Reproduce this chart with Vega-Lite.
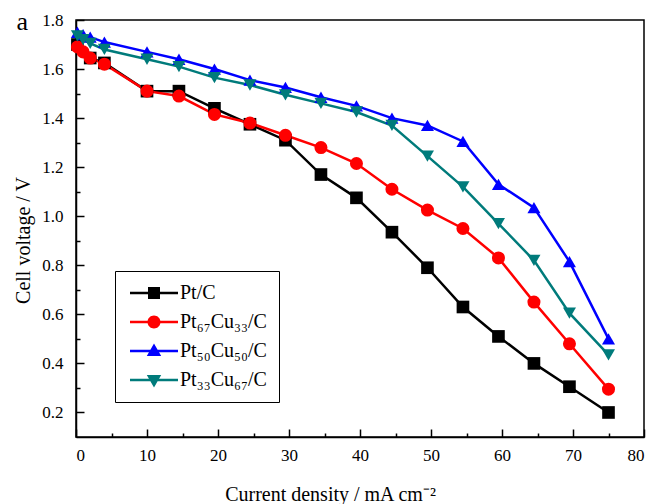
{
  "$schema": "https://vega.github.io/schema/vega-lite/v6.json",
  "width": 568,
  "height": 417,
  "autosize": {"type": "none"},
  "padding": {"left": 76, "top": 20, "right": 10, "bottom": 67},
  "background": "white",
  "title": {"text": "a", "orient": "left", "anchor": "end", "frame": "group", "angle": 0, "align": "left", "baseline": "alphabetic", "offset": -5, "dx": 10, "dy": 10, "font": "Liberation Serif", "fontSize": 26, "fontWeight": "normal", "color": "black"},
  "config": {
    "view": {"stroke": "black", "strokeWidth": 1.5},
    "axis": {"labelFont": "Liberation Serif", "titleFont": "Liberation Serif", "labelColor": "black", "titleColor": "black", "domainColor": "black", "tickColor": "black", "labelFontSize": 17, "titleFontSize": 20, "titleFontWeight": "normal", "grid": false, "domainWidth": 1.5, "tickWidth": 1.5}
  },
  "data": {"values": [
    {"series": "Pt/C", "j": 0.2, "v": 1.70},
    {"series": "Pt/C", "j": 2, "v": 1.645},
    {"series": "Pt/C", "j": 4, "v": 1.625},
    {"series": "Pt/C", "j": 10, "v": 1.51},
    {"series": "Pt/C", "j": 14.5, "v": 1.51},
    {"series": "Pt/C", "j": 19.5, "v": 1.44},
    {"series": "Pt/C", "j": 24.5, "v": 1.375},
    {"series": "Pt/C", "j": 29.5, "v": 1.31},
    {"series": "Pt/C", "j": 34.5, "v": 1.17},
    {"series": "Pt/C", "j": 39.5, "v": 1.075},
    {"series": "Pt/C", "j": 44.5, "v": 0.935},
    {"series": "Pt/C", "j": 49.5, "v": 0.79},
    {"series": "Pt/C", "j": 54.5, "v": 0.63},
    {"series": "Pt/C", "j": 59.5, "v": 0.51},
    {"series": "Pt/C", "j": 64.5, "v": 0.40},
    {"series": "Pt/C", "j": 69.5, "v": 0.305},
    {"series": "Pt/C", "j": 75, "v": 0.20},
    {"series": "Pt₆₇Cu₃₃/C", "j": 0.2, "v": 1.69},
    {"series": "Pt₆₇Cu₃₃/C", "j": 1, "v": 1.67},
    {"series": "Pt₆₇Cu₃₃/C", "j": 2, "v": 1.645},
    {"series": "Pt₆₇Cu₃₃/C", "j": 4, "v": 1.62},
    {"series": "Pt₆₇Cu₃₃/C", "j": 10, "v": 1.51},
    {"series": "Pt₆₇Cu₃₃/C", "j": 14.5, "v": 1.49},
    {"series": "Pt₆₇Cu₃₃/C", "j": 19.5, "v": 1.415},
    {"series": "Pt₆₇Cu₃₃/C", "j": 24.5, "v": 1.38},
    {"series": "Pt₆₇Cu₃₃/C", "j": 29.5, "v": 1.33},
    {"series": "Pt₆₇Cu₃₃/C", "j": 34.5, "v": 1.28},
    {"series": "Pt₆₇Cu₃₃/C", "j": 39.5, "v": 1.215},
    {"series": "Pt₆₇Cu₃₃/C", "j": 44.5, "v": 1.11},
    {"series": "Pt₆₇Cu₃₃/C", "j": 49.5, "v": 1.025},
    {"series": "Pt₆₇Cu₃₃/C", "j": 54.5, "v": 0.95},
    {"series": "Pt₆₇Cu₃₃/C", "j": 59.5, "v": 0.83},
    {"series": "Pt₆₇Cu₃₃/C", "j": 64.5, "v": 0.65},
    {"series": "Pt₆₇Cu₃₃/C", "j": 69.5, "v": 0.48},
    {"series": "Pt₆₇Cu₃₃/C", "j": 75, "v": 0.295},
    {"series": "Pt₅₀Cu₅₀/C", "j": 0.2, "v": 1.75},
    {"series": "Pt₅₀Cu₅₀/C", "j": 1, "v": 1.74},
    {"series": "Pt₅₀Cu₅₀/C", "j": 2, "v": 1.73},
    {"series": "Pt₅₀Cu₅₀/C", "j": 4, "v": 1.71},
    {"series": "Pt₅₀Cu₅₀/C", "j": 10, "v": 1.67},
    {"series": "Pt₅₀Cu₅₀/C", "j": 14.5, "v": 1.64},
    {"series": "Pt₅₀Cu₅₀/C", "j": 19.5, "v": 1.60},
    {"series": "Pt₅₀Cu₅₀/C", "j": 24.5, "v": 1.555},
    {"series": "Pt₅₀Cu₅₀/C", "j": 29.5, "v": 1.525},
    {"series": "Pt₅₀Cu₅₀/C", "j": 34.5, "v": 1.485},
    {"series": "Pt₅₀Cu₅₀/C", "j": 39.5, "v": 1.45},
    {"series": "Pt₅₀Cu₅₀/C", "j": 44.5, "v": 1.40},
    {"series": "Pt₅₀Cu₅₀/C", "j": 49.5, "v": 1.37},
    {"series": "Pt₅₀Cu₅₀/C", "j": 54.5, "v": 1.305},
    {"series": "Pt₅₀Cu₅₀/C", "j": 59.5, "v": 1.13},
    {"series": "Pt₅₀Cu₅₀/C", "j": 64.5, "v": 1.035},
    {"series": "Pt₅₀Cu₅₀/C", "j": 69.5, "v": 0.815},
    {"series": "Pt₅₀Cu₅₀/C", "j": 75, "v": 0.50},
    {"series": "Pt₃₃Cu₆₇/C", "j": 0.2, "v": 1.735},
    {"series": "Pt₃₃Cu₆₇/C", "j": 1, "v": 1.72},
    {"series": "Pt₃₃Cu₆₇/C", "j": 2, "v": 1.705},
    {"series": "Pt₃₃Cu₆₇/C", "j": 4, "v": 1.68},
    {"series": "Pt₃₃Cu₆₇/C", "j": 10, "v": 1.64},
    {"series": "Pt₃₃Cu₆₇/C", "j": 14.5, "v": 1.61},
    {"series": "Pt₃₃Cu₆₇/C", "j": 19.5, "v": 1.565},
    {"series": "Pt₃₃Cu₆₇/C", "j": 24.5, "v": 1.535},
    {"series": "Pt₃₃Cu₆₇/C", "j": 29.5, "v": 1.495},
    {"series": "Pt₃₃Cu₆₇/C", "j": 34.5, "v": 1.46},
    {"series": "Pt₃₃Cu₆₇/C", "j": 39.5, "v": 1.425},
    {"series": "Pt₃₃Cu₆₇/C", "j": 44.5, "v": 1.37},
    {"series": "Pt₃₃Cu₆₇/C", "j": 49.5, "v": 1.245},
    {"series": "Pt₃₃Cu₆₇/C", "j": 54.5, "v": 1.12},
    {"series": "Pt₃₃Cu₆₇/C", "j": 59.5, "v": 0.97},
    {"series": "Pt₃₃Cu₆₇/C", "j": 64.5, "v": 0.82},
    {"series": "Pt₃₃Cu₆₇/C", "j": 69.5, "v": 0.605},
    {"series": "Pt₃₃Cu₆₇/C", "j": 75, "v": 0.435}
  ]},
  "encoding": {
    "x": {"field": "j", "type": "quantitative", "scale": {"domain": [0, 80], "nice": false, "zero": false},
      "axis": {"title": "Current density / mA cm⁻²", "values": [0,5,10,15,20,25,30,35,40,45,50,55,60,65,70,75,80],
        "labelExpr": "datum.value % 10 === 0 ? datum.label : ''",
        "tickSize": {"condition": {"test": "datum.value % 10 === 0", "value": -8}, "value": -4},
        "labelPadding": 18, "titleX": 254, "titleY": 63, "titleAlign": "center", "titleBaseline": "alphabetic"}},
    "y": {"field": "v", "type": "quantitative", "scale": {"domain": [0.1, 1.8], "nice": false, "zero": false},
      "axis": {"title": "Cell voltage / V", "values": [0.2,0.3,0.4,0.5,0.6,0.7,0.8,0.9,1.0,1.1,1.2,1.3,1.4,1.5,1.6,1.7,1.8],
        "labelExpr": "round(datum.value*10) % 2 === 0 ? format(datum.value, '.1f') : ''",
        "tickSize": {"condition": {"test": "round(datum.value*10) % 2 === 0", "value": -8}, "value": -4},
        "labelPadding": 21, "titleX": -53, "titleY": 220, "titleAngle": -90, "titleAlign": "center", "titleBaseline": "middle"}},
    "color": {"field": "series", "type": "nominal",
      "scale": {"domain": ["Pt/C", "Pt₆₇Cu₃₃/C", "Pt₅₀Cu₅₀/C", "Pt₃₃Cu₆₇/C"], "range": ["#000000", "#ff0000", "#0000ff", "#007b7b"]},
      "legend": null}
  },
  "layer": [
    {
      "mark": {"type": "line", "strokeWidth": 2.5},
      "encoding": {
        "color": {"field": "series", "type": "nominal",
          "legend": {"title": null, "orient": "none", "legendX": 39, "legendY": 251, "direction": "vertical",
            "strokeColor": "black", "fillColor": "white", "padding": 12, "rowPadding": 9,
            "labelFont": "Liberation Serif", "labelFontSize": 20, "labelColor": "black", "labelOffset": 16, "labelLimit": 300,
            "symbolSize": 400, "symbolStrokeWidth": 0, "symbolOpacity": 1, "symbolOffset": 17,
            "encode": {"symbols": {"update": {
              "shape": {"signal": "datum.value === 'Pt/C' ? 'M-2.4,-0.12H2.4V0.12H-2.4Z M-0.6,-0.6H0.6V0.6H-0.6Z' : datum.value === 'Pt₆₇Cu₃₃/C' ? 'M-2.4,-0.12H2.4V0.12H-2.4Z M0.65,0A0.65,0.65,0,1,1,-0.65,0A0.65,0.65,0,1,1,0.65,0Z' : datum.value === 'Pt₅₀Cu₅₀/C' ? 'M-2.4,-0.12H2.4V0.12H-2.4Z M0,-0.75L0.72,0.5L-0.72,0.5Z' : 'M-2.4,-0.12H2.4V0.12H-2.4Z M0,0.75L-0.72,-0.5L0.72,-0.5Z'"},
              "fill": {"scale": "color", "field": "value"},
              "stroke": {"value": "transparent"},
              "opacity": {"value": 1}
            }}}
          }}
      }
    },
    {"transform": [{"filter": "datum.series === 'Pt/C'"}], "mark": {"type": "point", "shape": "square", "filled": true, "opacity": 1, "size": 160}},
    {"transform": [{"filter": "datum.series === 'Pt₆₇Cu₃₃/C'"}], "mark": {"type": "point", "shape": "circle", "filled": true, "opacity": 1, "size": 170}},
    {"transform": [{"filter": "datum.series === 'Pt₅₀Cu₅₀/C'"}], "mark": {"type": "point", "shape": "triangle-up", "filled": true, "opacity": 1, "size": 170}},
    {"transform": [{"filter": "datum.series === 'Pt₃₃Cu₆₇/C'"}], "mark": {"type": "point", "shape": "triangle-down", "filled": true, "opacity": 1, "size": 170}}
  ]
}
